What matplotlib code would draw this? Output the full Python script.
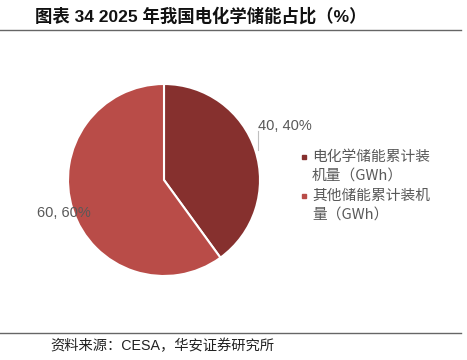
import matplotlib
matplotlib.use("Agg")
import matplotlib.pyplot as plt
from matplotlib.lines import Line2D

labels = ["电化学储能累计装\n机量（GWh）", "其他储能累计装机\n量（GWh）"]
values = [40, 60]
colors = ["#86302e", "#b94c48"]

title = "图表 34 2025 年我国电化学储能占比（%）"
source = "资料来源：CESA，华安证券研究所"

mixed = ["Liberation Sans", "Noto Sans CJK SC"]
cjk = ["Noto Sans CJK SC", "DejaVu Sans"]
grey = "#595959"

W, H = 467, 360
fig = plt.figure(figsize=(W / 100, H / 100), dpi=100)

# pie: centre at (164, 180) px, radius 96 px
cx, cy, r = 164, 180, 96
ax = fig.add_axes([(cx - r) / W, (H - cy - r) / H, 2 * r / W, 2 * r / H])
wedges, _ = ax.pie(values, colors=colors, startangle=90, counterclock=False,
                   radius=1, wedgeprops=dict(edgecolor="white", linewidth=1.5))
ax.set_xlim(-1, 1)
ax.set_ylim(-1, 1)
ax.set_aspect("equal")
ax.axis("off")

total = sum(values)
lab_pos = [(0.98, 0.56), (-1.04, -0.34)]
for v, (lx, ly) in zip(values, lab_pos):
    ha = "left" if lx > 0 else "center"
    ax.text(lx, ly, f"{v}, {v / total:.0%}", ha=ha, va="center", fontsize=10.5,
            color=grey, family=mixed, clip_on=False)
# leader line for the small slice label
ax.plot([0.975, 0.975], [0.51, 0.31], color="#bfbfbf", lw=0.8, clip_on=False)

# legend drawn by hand so the marker sits on the first text line
for i, (lab, c) in enumerate(zip(labels, colors)):
    y0 = 157 + i * 39
    fig.add_artist(Line2D([304 / W], [1 - y0 / H], marker="s", markersize=3.5,
                          color=c, transform=fig.transFigure))
    for j, line in enumerate(lab.split("\n")):
        fig.text(312 / W, 1 - (y0 + j * 19.5) / H, line, ha="left", va="center",
                 fontsize=10.6, color=grey, family=cjk)

# title and rules
fig.text(35 / W, 1 - 16 / H, title, ha="left", va="center", fontsize=12.5,
         fontweight="bold", color="#111111", family=mixed)
fig.add_artist(Line2D([0, 461 / W], [1 - 30 / H] * 2, color="#666666", lw=1,
                      transform=fig.transFigure))
fig.add_artist(Line2D([0, 461 / W], [1 - 333 / H] * 2, color="#666666", lw=1,
                      transform=fig.transFigure))
fig.text(50 / W, 1 - 346 / H, source, ha="left", va="center", fontsize=10.3,
         color="#222222", family=mixed)

fig.savefig("out.png", dpi=100)
